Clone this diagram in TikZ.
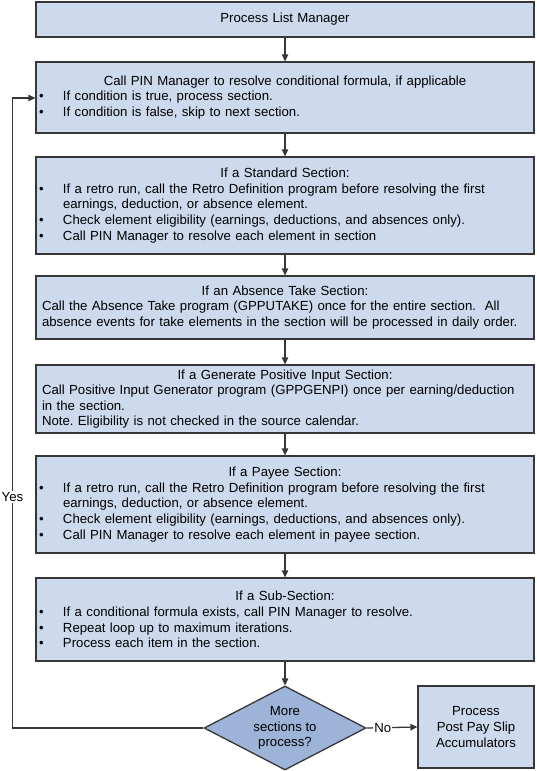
\documentclass[tikz,border=0pt]{standalone}
\usepackage{fontspec}
\setmainfont{Liberation Sans}
\usetikzlibrary{arrows.meta,shapes.geometric,calc}
\definecolor{boxfill}{RGB}{205,217,236}
\definecolor{dmfill}{RGB}{158,179,216}
\definecolor{edgecol}{RGB}{55,55,55}
\newcommand{\bul}[1]{\par\noindent\makebox[24pt][l]{\textbullet}#1}
\newcommand{\cnt}[1]{\par\noindent\hspace*{24pt}#1}
\newcommand{\pln}[1]{\par\noindent\hspace*{3pt}#1}
\newcommand{\ttl}[1]{{\centering #1\par}}
\frenchspacing
\begin{document}
\begin{tikzpicture}[x=1pt,y=-1pt,
  txt/.style={font=\fontsize{13.2}{15.6}\selectfont},
  box/.style={txt,draw=edgecol, line width=1.3pt, fill=boxfill, text width=492pt,
    inner xsep=3pt, inner ysep=0pt, align=left, anchor=center},
  dec/.style={txt,diamond, draw=edgecol, line width=1.3pt, fill=dmfill, aspect=1.93,
    inner sep=0pt, minimum width=162pt, minimum height=84pt, align=center},
  endbox/.style={txt,draw=edgecol, line width=1.3pt, fill=boxfill, minimum width=116pt,
    minimum height=82pt, inner sep=0pt, align=center},
  arr/.style={draw=edgecol, line width=1.3pt, -{Triangle[length=7pt,width=6.5pt]}},
  lbl/.style={txt, fill=white, inner sep=1pt}]
\useasboundingbox (0,0) rectangle (536,771);

\node[box, minimum height=35pt] (b1) at (285,19.5) {\ttl{Process List Manager}};

\node[box, minimum height=71pt] (b2) at (285,97.5) {%
\ttl{Call PIN Manager to resolve conditional formula, if applicable}%
\bul{If condition is true, process section.}%
\bul{If condition is false, skip to next section.}};

\node[box, minimum height=97pt] (b3) at (285,205.5) {%
\ttl{If a Standard Section:}%
\bul{If a retro run, call the Retro Definition program before resolving the first}%
\cnt{earnings, deduction, or absence element.}%
\bul{Check element eligibility (earnings, deductions, and absences only).}%
\bul{Call PIN Manager to resolve each element in section}};

\node[box, minimum height=63pt] (b4) at (285,307.5) {%
\ttl{If an Absence Take Section:}%
\pln{Call the Absence Take program (GPPUTAKE) once for the entire section.\ \ All}%
\pln{absence events for take elements in the section will be processed in daily order.}};

\node[box, minimum height=68pt] (b5) at (285,399) {%
\ttl{If a Generate Positive Input Section:}%
\pln{Call Positive Input Generator program (GPPGENPI) once per earning/deduction}%
\pln{in the section.}%
\pln{Note. Eligibility is not checked in the source calendar.}};

\node[box, minimum height=97pt] (b6) at (285,504.5) {%
\ttl{If a Payee Section:}%
\bul{If a retro run, call the Retro Definition program before resolving the first}%
\cnt{earnings, deduction, or absence element.}%
\bul{Check element eligibility (earnings, deductions, and absences only).}%
\bul{Call PIN Manager to resolve each element in payee section.}};

\node[box, minimum height=83pt] (b7) at (285,619.5) {%
\ttl{If a Sub-Section:}%
\bul{If a conditional formula exists, call PIN Manager to resolve.}%
\bul{Repeat loop up to maximum iterations.}%
\bul{Process each item in the section.}};

\node[dec] (dm) at (285,728) {More\\sections to\\process?};
\node[endbox] (pp) at (476,727) {Process\\Post Pay Slip\\Accumulators};

\draw[arr] (b1.south) -- (b2.north);
\draw[arr] (b2.south) -- (b3.north);
\draw[arr] (b3.south) -- (b4.north);
\draw[arr] (b4.south) -- (b5.north);
\draw[arr] (b5.south) -- (b6.north);
\draw[arr] (b6.south) -- (b7.north);
\draw[arr] (b7.south) -- (dm.north);
\draw[arr] (dm.east) -- node[lbl, pos=0.32] (no) {No} (pp.west);
\coordinate (yc) at (12.5,98);
\draw[arr] (dm.west) -| (yc) -- (yc -| b2.west);
\node[lbl] (yes) at (12.5,497) {Yes};
\end{tikzpicture}
\end{document}
